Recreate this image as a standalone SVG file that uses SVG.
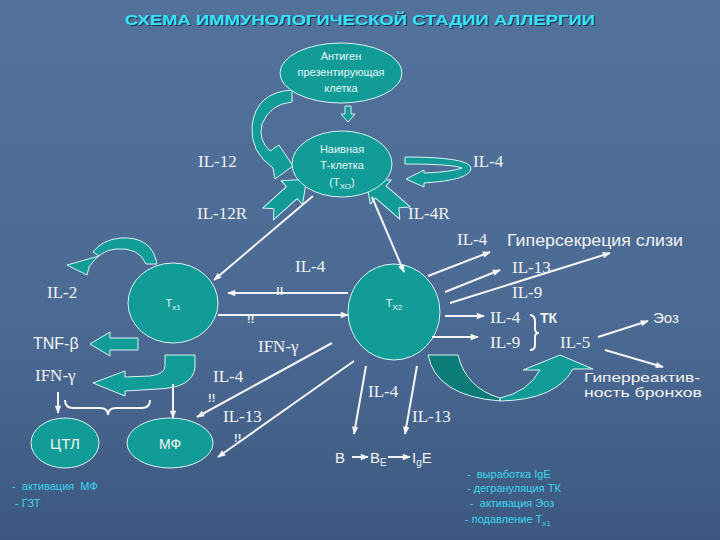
<svg xmlns="http://www.w3.org/2000/svg" width="720" height="540" viewBox="0 0 720 540">
<defs>
<linearGradient id="bg" x1="0" y1="0" x2="0" y2="1">
<stop offset="0" stop-color="#52729b"/>
<stop offset="0.6" stop-color="#4b6a93"/>
<stop offset="1" stop-color="#3c5880"/>
</linearGradient>
<marker id="ah" viewBox="0 0 10 10" refX="9" refY="5" markerWidth="10" markerHeight="8" markerUnits="userSpaceOnUse" orient="auto">
<path d="M0,1 L10,5 L0,9 z" fill="#f4f4f4"/>
</marker>
<style>
.cell{fill:#129c98;stroke:#d8f4f4;stroke-width:1}
.blk{fill:#129c98;stroke:#d8f4f4;stroke-width:1;stroke-linejoin:round}
.dark{fill:#0c7c78;stroke:#d8f4f4;stroke-width:1}
.ln{stroke:#f4f4f4;stroke-width:2;fill:none}
.lnA{stroke:#f4f4f4;stroke-width:2;fill:none;marker-end:url(#ah)}
.il{font-family:"Liberation Serif","DejaVu Serif",serif;font-size:17px;fill:#f2f2f2}
.sn{font-family:"Liberation Sans","DejaVu Sans",sans-serif;fill:#f2f2f2}
.ct{font-family:"Liberation Sans","DejaVu Sans",sans-serif;font-size:11px;fill:#e6f6f6;text-anchor:middle}
.cy{font-family:"Liberation Sans","DejaVu Sans",sans-serif;font-size:11px;fill:#3cd6ee}
.ex{font-family:"Liberation Sans","DejaVu Sans",sans-serif;font-size:11px;fill:#f2f2f2;font-weight:bold}
</style>
</defs>
<rect width="720" height="540" fill="url(#bg)"/>

<g id="title">
<text x="126" y="26" font-family="Liberation Sans, DejaVu Sans, sans-serif" font-weight="bold" font-size="15" fill="#1e2f48" textLength="470" lengthAdjust="spacingAndGlyphs">СХЕМА ИММУНОЛОГИЧЕСКОЙ СТАДИИ АЛЛЕРГИИ</text>
<text x="125" y="25" font-family="Liberation Sans, DejaVu Sans, sans-serif" font-weight="bold" font-size="15" fill="#33e4fc" textLength="470" lengthAdjust="spacingAndGlyphs">СХЕМА ИММУНОЛОГИЧЕСКОЙ СТАДИИ АЛЛЕРГИИ</text>
</g>

<!-- block arrows / shapes -->
<g id="arrows-block">
<path class="blk" d="M292,90 L292,102 Q270,104 262,124 Q258,140 270,151 L279,145 L293,166 L275,179 L273,168 Q250,152 252,126 Q256,92 292,90 Z"/>
<path class="blk" d="M345,106 L351,106 L351,114 L355,114 L348,122 L341,114 L345,114 Z"/>
<path class="blk" d="M405,157 L405,164 Q452,164 462,168 Q452,172 424,173 L424,170 L406,179 L424,187 L424,183 Q471,180 471,168 Q469,157 405,157 Z"/>
<polygon class="blk" transform="translate(268,214) rotate(-42)" points="0,-8 32,-8 32,-16 52,0 32,16 32,8 0,8 8,0"/>
<polygon class="blk" transform="translate(405,213) rotate(-139)" points="0,-8 32,-8 32,-16 52,0 32,16 32,8 0,8 8,0"/>
<path class="blk" d="M157,264 Q152,236 120,238 Q102,240 93,252 L99,256 L67,265 L87,275 L89,267 Q100,250 116,249 Q139,247 146,264 Z"/>
<path class="blk" d="M138,338 L138,350 L110,350 L110,356 L90,344 L110,332 L110,338 Z"/>
<path class="blk" d="M165,355 L195,355 L195,368 Q192,388 158,389 L125,391 L125,396 L93,383 L125,371 L125,377 L150,376 Q165,374 165,366 Z"/>
<path class="dark" d="M428,355 L458,355 Q466,388 500,398 L500,401 Q436,396 428,355 Z"/>
<path class="blk" d="M500,398 Q528,392 540,370 L523,370 L560,355 L593,369 L573,369 Q556,400 500,401 Z"/>
</g>

<g id="apc">
<ellipse class="cell" cx="341" cy="73" rx="61" ry="30"/>
<text class="ct" x="341" y="60">Антиген</text>
<text class="ct" x="341" y="76">презентирующая</text>
<text class="ct" x="341" y="92">клетка</text>
</g>

<g id="naive">
<ellipse class="cell" cx="342" cy="164" rx="50" ry="33"/>
<text class="ct" x="342" y="153">Наивная</text>
<text class="ct" x="342" y="169">Т-клетка</text>
<text class="ct" x="342" y="186">(Т<tspan font-size="8" dy="3">ХО</tspan><tspan dy="-3">)</tspan></text>
</g>

<g id="tx1">
<ellipse class="cell" cx="173" cy="303" rx="45" ry="40"/>
<text class="ct" x="173" y="307" font-size="10">Т<tspan font-size="8" dy="3">х1</tspan></text>
</g>

<g id="tx2">
<ellipse class="cell" cx="394" cy="312" rx="46" ry="48"/>
<text class="ct" x="394" y="307" font-size="10">Т<tspan font-size="8" dy="3">Х2</tspan></text>
</g>

<g id="ctl">
<ellipse class="cell" cx="65" cy="443" rx="34" ry="25"/>
<text class="sn" x="65" y="449" font-size="15" text-anchor="middle">ЦТЛ</text>
</g>

<g id="mf">
<ellipse class="cell" cx="170" cy="443" rx="43" ry="25"/>
<text class="sn" x="170" y="449" font-size="14" text-anchor="middle">МФ</text>
</g>

<g id="connectors">
<line class="lnA" x1="313" y1="196" x2="214" y2="280"/>
<line class="lnA" x1="372" y1="197" x2="404" y2="272"/>
<line class="lnA" x1="348" y1="293" x2="228" y2="293"/>
<line class="lnA" x1="218" y1="315" x2="348" y2="315"/>
<line class="lnA" x1="58" y1="392" x2="58" y2="413"/>
<line class="lnA" x1="173" y1="384" x2="173" y2="418"/>
<line class="lnA" x1="332" y1="343" x2="197" y2="417"/>
<line class="lnA" x1="354" y1="361" x2="218" y2="457"/>
<line class="lnA" x1="366" y1="366" x2="354" y2="434"/>
<line class="lnA" x1="417" y1="366" x2="405" y2="434"/>
<line class="lnA" x1="428" y1="276" x2="490" y2="252"/>
<line class="lnA" x1="445" y1="292" x2="500" y2="270"/>
<line class="lnA" x1="450" y1="303" x2="610" y2="253"/>
<line class="lnA" x1="445" y1="316" x2="484" y2="316"/>
<line class="lnA" x1="432" y1="337" x2="478" y2="337"/>
<line class="lnA" x1="598" y1="337" x2="648" y2="321"/>
<line class="lnA" x1="605" y1="350" x2="663" y2="367"/>
<line class="lnA" x1="352" y1="457" x2="368" y2="457"/>
<line class="lnA" x1="388" y1="457" x2="410" y2="457"/>
<path class="ln" stroke-width="1.5" d="M65,400 Q65,408 73,408 L100,408 Q108,408 108,415 Q108,408 116,408 L142,408 Q150,408 150,400"/>
<path class="ln" stroke-width="1.5" d="M530,315 Q535,315 535,322 L535,329 Q535,333 539,333 Q535,333 535,337 L535,345 Q535,350 530,350"/>
</g>

<g id="labels">
<text class="il" x="198" y="167">IL-12</text>
<text class="il" x="473" y="167">IL-4</text>
<text class="il" x="197" y="219">IL-12R</text>
<text class="il" x="408" y="219">IL-4R</text>
<text class="il" x="47" y="298">IL-2</text>
<text class="il" x="295" y="272">IL-4</text>
<text class="ex" x="276" y="295">!!</text>
<text class="ex" x="247" y="323">!!</text>
<text class="il" x="258" y="352">IFN-γ</text>
<text class="sn" x="33" y="349" font-size="16">TNF-β</text>
<text class="il" x="35" y="381">IFN-γ</text>
<text class="il" x="213" y="382">IL-4</text>
<text class="ex" x="208" y="402">!!</text>
<text class="il" x="223" y="422">IL-13</text>
<text class="ex" x="234" y="442">!!</text>
<text class="il" x="368" y="397">IL-4</text>
<text class="il" x="412" y="422">IL-13</text>
<text class="sn" x="335" y="463" font-size="15">B</text>
<text class="sn" x="370" y="463" font-size="15">B<tspan font-size="10" dy="3">E</tspan></text>
<text class="sn" x="412" y="463" font-size="15">I<tspan font-size="10" dy="3">g</tspan><tspan dy="-3">E</tspan></text>
<text class="il" x="457" y="245">IL-4</text>
<text class="sn" x="507" y="246" font-size="16" textLength="176" lengthAdjust="spacingAndGlyphs">Гиперсекреция слизи</text>
<text class="il" x="512" y="273">IL-13</text>
<text class="il" x="512" y="298">IL-9</text>
<text class="il" x="490" y="323">IL-4</text>
<text class="sn" x="540" y="323" font-size="14" font-weight="bold">ТК</text>
<text class="il" x="490" y="348">IL-9</text>
<text class="il" x="560" y="348">IL-5</text>
<text class="sn" x="653" y="323" font-size="15">Эоз</text>
<text class="sn" x="584" y="382" font-size="13" textLength="116" lengthAdjust="spacingAndGlyphs">Гиперреактив-</text>
<text class="sn" x="584" y="397" font-size="13" textLength="118" lengthAdjust="spacingAndGlyphs">ность бронхов</text>
<text class="cy" x="12" y="490" xml:space="preserve">-  активация  МФ</text>
<text class="cy" x="15" y="507">- ГЗТ</text>
<text class="cy" x="467" y="478" xml:space="preserve">-  выработка IgE</text>
<text class="cy" x="467" y="492">- дегрануляция ТК</text>
<text class="cy" x="470" y="507" xml:space="preserve">-  активация Эоз</text>
<text class="cy" x="465" y="523">- подавление Т<tspan font-size="8" dy="3">х1</tspan></text>
</g>
</svg>
